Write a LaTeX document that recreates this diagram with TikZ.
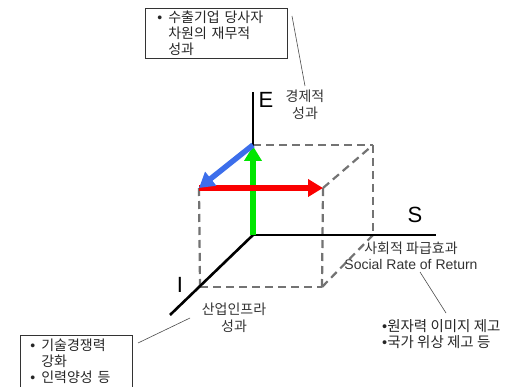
\documentclass[tikz,border=0pt]{standalone}
\usepackage{fontspec}
\setmainfont{Liberation Sans}
\newfontfamily\kr{Noto Sans CJK KR}
\usetikzlibrary{arrows.meta,positioning}
\definecolor{econgreen}{RGB}{0,230,0}
\definecolor{socred}{RGB}{250,0,0}
\definecolor{indblue}{RGB}{60,110,235}
\definecolor{edgegray}{RGB}{115,115,115}

\begin{document}
\begin{tikzpicture}[x=1pt, y=-1pt,
    every node/.style={inner sep=0pt},
    axis/.style={line width=2.6pt, black},
    cubeedge/.style={line width=2.2pt, edgegray, dash pattern=on 8pt off 5pt},
    vec/.style={line width=5.5pt, -{Triangle[length=15pt,width=17pt]}},
    callout/.style={line width=0.6pt, black!70},
    krlabel/.style={font=\kr\fontsize{14}{16.5}\selectfont, text=black!80, align=center},
    axislabel/.style={font=\fontsize{22}{22}\selectfont},
    bulletbox/.style={draw, line width=0.7pt, black!80, text=black!85, align=left,
      font=\kr\fontsize{14}{16}\selectfont}]
    \def\bul{\makebox[11pt][l]{\normalfont\textbullet}}
    \def\ind{\hspace*{11pt}}
    \useasboundingbox (0,0) rectangle (513,387);

    % ── corners of the box and ends of the axes ─────────────────────────────
    \coordinate (O)    at (253,235);
    \coordinate (Etop) at (253,92);
    \coordinate (Send) at (436,235);
    \coordinate (Iend) at (170,315);
    \coordinate (B1) at (253,145);
    \coordinate (B2) at (373,145);
    \coordinate (B3) at (373,235);
    \coordinate (F1) at (199,188);
    \coordinate (F2) at (323,188);
    \coordinate (F3) at (322,287);
    \coordinate (F4) at (200,287);
    \coordinate (Gtip) at (253,146);

    % ── dashed box ──────────────────────────────────────────────────────────
    \foreach \a/\b in {B1/B2, B2/B3, F2/B2, F1/F4, F4/F3, F3/F2, F3/B3} {
      \draw[cubeedge] (\a) -- (\b);
    }

    % ── axes ────────────────────────────────────────────────────────────────
    \draw[axis] (O) -- (Etop);
    \draw[axis, line width=2.2pt] (O) -- (Send);
    \draw[axis] (O) -- (Iend);

    % ── vectors ─────────────────────────────────────────────────────────────
    \draw[vec, econgreen] (O) -- (Gtip);
    \draw[vec, socred] (F1) -- (F2);
    \draw[vec, indblue] (B1) -- (F1);

    % ── axis labels ─────────────────────────────────────────────────────────
    \node[axislabel] (Elbl) at (266,100) {E};
    \node[krlabel] (econ) at (305,96) {경제적};
    \node[krlabel, below=4pt of econ] (econsub) {성과};
    \node[axislabel] (Slbl) at (415,215) {S};
    \node[krlabel] (social) at (411,256)
      {사회적 파급효과\\{\normalfont\fontsize{14}{15}\selectfont Social Rate of Return}};
    \node[axislabel] (Ilbl) at (180,285) {I};
    \node[krlabel] (infra) at (234,318) {산업인프라\\성과};

    % ── call-out boxes ──────────────────────────────────────────────────────
    \node[bulletbox, anchor=north west, text width=118pt, inner xsep=12pt, inner ysep=1pt,
      minimum height=50pt] (finbox) at (145,8)
      {\bul 수출기업 당사자\\\ind 차원의 재무적\\\ind 성과};
    \node[bulletbox, anchor=north west, text width=92pt, inner xsep=10pt, inner ysep=4pt]
      (techbox) at (20,335)
      {\bul 기술경쟁력\\\ind 강화\\\bul 인력양성 등\\[12pt]\ };
    \node[anchor=west, align=left, text=black!85, font=\kr\fontsize{14.5}{16}\selectfont]
      (nucl) at (382,334)
      {{\normalfont\textbullet}원자력 이미지 제고\\{\normalfont\textbullet}국가 위상 제고 등};

    % ── call-out lines ──────────────────────────────────────────────────────
    \coordinate (c1a) at (292,16);
    \coordinate (c1b) at (305,86);
    \coordinate (c2a) at (138,343);
    \coordinate (c2b) at (190,318);
    \coordinate (c3a) at (420,272);
    \coordinate (c3b) at (446,313);
    \draw[callout] (c1a) -- (c1b);
    \draw[callout] (c2a) -- (c2b);
    \draw[callout] (c3a) -- (c3b);
\end{tikzpicture}
\end{document}
